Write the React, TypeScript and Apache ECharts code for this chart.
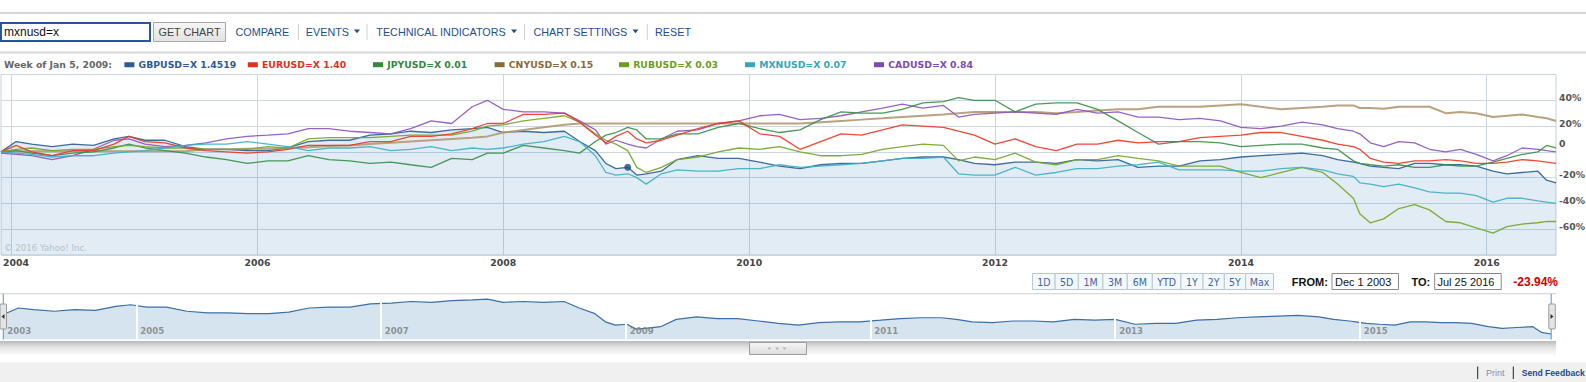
import React, { useEffect, useRef } from 'react';
import * as echarts from 'echarts';

// ---------- DATA ----------
const dates = [
  '2003-12-01', '2004-01-15', '2004-03-01', '2004-05-01', '2004-07-01', '2004-09-01', '2004-11-01', '2004-12-15',
  '2005-02-01', '2005-04-01', '2005-06-01', '2005-08-01', '2005-10-01', '2005-12-01', '2006-02-01', '2006-04-01',
  '2006-06-01', '2006-08-01', '2006-10-01', '2006-12-01', '2007-02-01', '2007-04-01', '2007-06-01', '2007-08-01',
  '2007-10-01', '2007-11-15', '2008-01-01', '2008-03-01', '2008-05-01', '2008-07-01', '2008-08-15', '2008-10-01',
  '2008-11-01', '2008-12-01', '2009-01-05', '2009-02-01', '2009-03-01', '2009-04-15', '2009-06-01', '2009-08-01',
  '2009-10-01', '2009-12-01', '2010-02-01', '2010-04-01', '2010-06-01', '2010-08-01', '2010-10-01', '2010-12-01',
  '2011-02-01', '2011-04-01', '2011-06-01', '2011-08-01', '2011-09-15', '2011-11-01', '2012-01-01', '2012-03-01',
  '2012-05-01', '2012-07-01', '2012-09-01', '2012-11-01', '2013-01-01', '2013-03-01', '2013-05-01', '2013-07-01',
  '2013-09-01', '2013-11-01', '2014-01-01', '2014-03-01', '2014-05-01', '2014-07-01', '2014-09-01', '2014-10-15',
  '2014-12-01', '2014-12-20', '2015-01-20', '2015-03-01', '2015-04-15', '2015-06-01', '2015-07-15', '2015-09-01',
  '2015-10-15', '2015-12-01', '2016-01-20', '2016-03-01', '2016-04-15', '2016-06-01', '2016-06-27', '2016-07-25',
];

const gbp = [
  0, 8, 6, 4, 6, 5, 10, 12, 9, 9, 4, 2, 2, 1, 1, 3, 8, 9, 9, 13, 14,
  16, 15, 17, 18, 19,
  15, 16, 15, 16, 8, 1, -9, -13, -12, -18, -17, -15, -6, -3, -5, -5, -8, -11, -13, -10, -9, -9, -7, -5, -4, -4, -6, -9, -10,
  -8, -8, -9, -6, -7, -6, -12, -11, -11, -7, -6, -4, -3, -2, -1,
  -3, -6, -8, -9, -11, -12, -13, -9, -9, -10, -10, -11, -15, -17, -16, -15, -22, -24,
];
const eur = [
  0, 5, 0, -3, 1, 1, 6, 12, 8, 7, 3, 1, 0, -1, 0, 2, 5, 5, 5, 8, 8,
  12, 12, 14, 18, 22,
  22, 29, 29, 30, 23, 13, 7, 12, 16, 10, 7, 9, 13, 18, 22, 24, 14, 12, 2, 8, 14, 13, 17, 21, 20, 19, 16, 13, 6,
  10, 4, 1, 6, 6, 9, 7, 8, 8, 11, 12, 13, 15, 15, 12,
  9, 6, 4, 2, -5, -8, -9, -7, -7, -6, -7, -9, -9, -8, -6, -7, -8, -9,
];
const jpy = [
  0, 1, -1, -3, -1, 0, 3, 6, 3, 1, -1, -4, -6, -9, -7, -7, -3, -6, -7, -9, -8,
  -10, -12, -5, -6, -1,
  -1, 5, 3, 1, -1, 8, 13, 15, 19, 17, 10, 10, 14, 14, 19, 22, 18, 15, 17, 25, 31, 30, 30, 33, 38, 39, 42, 40, 40,
  31, 37, 38, 38, 33, 24, 15, 6, 8, 8, 7, 4, 5, 6, 6,
  3, 2, -7, -9, -10, -11, -10, -12, -12, -10, -11, -11, -8, -5, -2, 0, 5, 3,
];
const cny = [
  0, 0.5, 0.5, 0.5, 0.5, 0.5, 0.5, 0.5, 0.5, 0.5, 0.5, 2, 2, 2.5, 2.5, 3, 3.5, 4.5, 5, 6, 7,
  8, 9, 10, 11, 12,
  15, 17, 19, 21, 22, 22, 22, 22, 22, 22, 22, 22, 22, 22, 22, 22, 22, 22, 22, 23, 24, 25, 26, 27, 28, 29, 30, 31, 31,
  31, 31, 30, 31, 32, 33, 33, 35, 35, 35, 36, 37, 35, 33, 34,
  35, 36, 36, 34, 34, 33.5, 35, 35, 35, 30, 31, 30, 27, 28, 29, 27, 26, 24,
];
const rub = [
  0, 2, 3, 1, 2, 2, 4, 5, 4, 3, 3, 2, 2, 2, 4, 3, 10, 11, 11, 11, 12,
  13, 13, 13, 16, 20,
  21, 24, 26, 28, 23, 14, 9, 6, 1, -12, -16, -12, -6, -4, 0, 3, 2, 4, 0, -3, -3, -2, 2, 4, 6, 5, -7, -4, -6,
  -1, -8, -10, -6, -6, -3, -5, -7, -11, -11, -11, -16, -20, -16, -12,
  -16, -25, -36, -48, -55, -52, -44, -41, -45, -54, -55, -59, -63, -58, -56, -55, -54, -54,
];
const mxn = [
  0, -1, -2, -4, -3, -3, -1, 0, 1, 3, 5, 6, 6, 8, 6, 4, 1, 3, 3, 4, 1,
  2, 4, 1, 3, 2,
  3, 6, 8, 12, 8, -3, -16, -18, -17, -20, -25, -17, -14, -15, -15, -13, -13, -10, -12, -11, -10, -9, -7, -5, -5, -4, -17, -18, -18,
  -12, -18, -16, -13, -13, -11, -10, -8, -14, -14, -14, -15, -15, -13, -12,
  -14, -17, -19, -24, -25, -27, -25, -28, -31, -32, -32, -34, -39, -36, -36, -38, -39, -40,
];
const cad = [
  -1, -2, -3, -6, -3, 2, 9, 10, 6, 4, 5, 7, 10, 12, 13, 14, 18, 18, 16, 15, 14,
  18, 24, 22, 35, 40,
  33, 31, 31, 30, 24, 17, 6, 9, 6, 4, 3, 10, 16, 17, 22, 24, 28, 29, 25, 26, 28, 31, 34, 37, 34, 36, 27, 29, 30,
  31, 30, 29, 33, 30, 31, 27, 27, 25, 26, 24, 19, 18, 20, 23,
  21, 18, 16, 14, 7, 4, 8, 7, 2, 0, 2, -2, -7, -3, 3, 2, 1, 0,
];

const symbols = ['GBPUSD=X', 'EURUSD=X', 'JPYUSD=X', 'CNYUSD=X', 'RUBUSD=X', 'MXNUSD=X', 'CADUSD=X'];
const hoverValues = ['1.4519', '1.40', '0.01', '0.15', '0.03', '0.07', '0.84'];
const seriesValues = [gbp, eur, jpy, cny, rub, mxn, cad];
const hoverDate = '2009-01-05';
const hoverTitle = 'Week of Jan 5, 2009:';
const startDate = '2003-12-01';
const endDate = '2016-07-25';
const yearLabels = [2004, 2006, 2008, 2010, 2012, 2014, 2016];
const navYears = [2003, 2005, 2007, 2009, 2011, 2013, 2015];
const rangeButtons = ['1D', '5D', '1M', '3M', '6M', 'YTD', '1Y', '2Y', '5Y', 'Max'];
const fromText = 'Dec 1 2003';
const toText = 'Jul 25 2016';
const changeText = '-23.94%';
const searchText = 'mxnusd=x';
const navItems = ['COMPARE', 'EVENTS', 'TECHNICAL INDICATORS', 'CHART SETTINGS', 'RESET'];
const navHasMenu = [false, true, true, true, false];

// ---------- STYLE / LAYOUT ----------
const lineColors = ['#2c5f97', '#ee3a24', '#3a904a', '#b39a74', '#74a62a', '#3fb0c4', '#8e55c0'];
const legendColors = ['#2a5b92', '#e3301e', '#2f8a3a', '#8a6a35', '#6b9e1f', '#37a6bd', '#7e4bb0'];
const legendX = [124.4, 247.8, 373, 494.6, 619, 745, 874];
const navX = [235.5, 305.8, 376.3, 533.5, 655];
const navSepX = [298.4, 367, 524.6, 647.3];
const navFontSize = 10.8;
const buttonEdges = [1032, 1054.6, 1077.8, 1102.4, 1126.8, 1151.8, 1180.4, 1202.5, 1223.8, 1245.2, 1273];
const gridColor = '#c9d7e3';
const bold = 'DejaVu Sans';
const sans = 'Liberation Sans, Arial, sans-serif';

function measure(t: string, font: string): number {
  try {
    const c = document.createElement('canvas').getContext('2d');
    if (!c) return t.length * 6.5;
    c.font = font;
    return c.measureText(t).width;
  } catch (e) {
    return t.length * 6.5;
  }
}

export default function App() {
  const ref = useRef<HTMLDivElement>(null);

  useEffect(() => {
    if (!ref.current) return;
    const chart = echarts.init(ref.current, null, { renderer: 'svg' });

    const pairs = (vals: number[]) => dates.map((d, i) => [d, vals[i]]);
    const hoverIdx = dates.indexOf(hoverDate);

    const drawOrder = [0, 3, 6, 2, 4, 1, 5];
    const mainSeries: any[] = drawOrder.map((i) => ({
      type: 'line',
      name: symbols[i],
      xAxisIndex: 0,
      yAxisIndex: 0,
      data: pairs(seriesValues[i]),
      symbol: 'none',
      silent: true,
      z: 3,
      lineStyle: { color: lineColors[i], width: i === 3 ? 2 : 1.3, opacity: 0.92 },
      areaStyle: i === 0 ? { color: 'rgba(50,120,175,0.2)', origin: 'start' } : undefined,
      markLine:
        i === 0
          ? {
              silent: true,
              z: 1,
              symbol: ['none', 'none'],
              lineStyle: { color: gridColor, width: 1, type: 'solid' },
              label: {
                show: true,
                position: 'start',
                distance: 3,
                formatter: '{b}',
                color: '#454545',
                fontFamily: bold,
                fontWeight: 'bold',
                fontSize: 9.3,
              },
              emphasis: { disabled: true },
              data: yearLabels.map((y, k) => ({
                name: String(y),
                xAxis: `${y}-01-01`,
                label: k === 0 ? { offset: [4.5, 0] } : undefined,
              })),
            }
          : undefined,
    }));

    const option: any = {
      animation: false,
      backgroundColor: '#ffffff',
      grid: [
        {
          left: 1, top: 74.5, width: 1555, height: 180.5,
          show: true, borderColor: '#c3d2de', borderWidth: 1, backgroundColor: '#fff',
          containLabel: false, outerBoundsMode: 'none',
        },
        {
          left: 3.3, top: 294, width: 1547.7, height: 45.3,
          show: false, containLabel: false, outerBoundsMode: 'none',
        },
      ],
      xAxis: [
        {
          type: 'time', gridIndex: 0, min: startDate, max: endDate,
          axisLine: { show: false }, axisTick: { show: false }, axisLabel: { show: false }, splitLine: { show: false },
        },
        {
          type: 'time', gridIndex: 1, min: startDate, max: endDate,
          axisLine: { show: false }, axisTick: { show: false }, axisLabel: { show: false }, splitLine: { show: false },
        },
      ],
      yAxis: [
        {
          type: 'value', gridIndex: 0, position: 'right', min: -80, max: 60, interval: 20,
          axisLine: { show: false }, axisTick: { show: false },
          splitLine: { show: true, lineStyle: { color: gridColor, width: 1 } },
          axisLabel: {
            margin: 3,
            align: 'left',
            formatter: (v: number) => (v === 60 || v === -80 ? '' : v === 0 ? '{z|0}' : `{n|${v}%}`),
            rich: {
              n: { fontFamily: bold, fontWeight: 'bold', fontSize: 9.3, color: '#555', padding: [0, 0, 6, 0] },
              z: { fontFamily: bold, fontWeight: 'bold', fontSize: 9.3, color: '#555', padding: [0, 0, 17, 0] },
            },
          },
        },
        {
          type: 'value', gridIndex: 1, min: -30.5, max: 25.2, show: false,
          splitLine: { show: false },
        },
      ],
      series: [
        ...mainSeries,
        {
          type: 'scatter',
          xAxisIndex: 0,
          yAxisIndex: 0,
          silent: true,
          z: 10,
          symbolSize: 7,
          itemStyle: { color: '#1d4b80' },
          data: [[hoverDate, gbp[hoverIdx]]],
        },
        {
          type: 'line',
          xAxisIndex: 1,
          yAxisIndex: 1,
          data: pairs(gbp),
          symbol: 'none',
          silent: true,
          z: 3,
          lineStyle: { color: '#3b6fa6', width: 1.2 },
          areaStyle: { color: '#d6e4ef', origin: 'start', opacity: 1 },
          markLine: {
            silent: true,
            symbol: ['none', 'none'],
            lineStyle: { color: '#ffffff', width: 2, type: 'solid' },
            label: { show: false },
            emphasis: { disabled: true },
            data: navYears.filter((y) => `${y}-01-01` > startDate).map((y) => ({ xAxis: `${y}-01-01` })),
          },
        },
        {
          type: 'scatter',
          xAxisIndex: 1,
          yAxisIndex: 1,
          silent: true,
          z: 8,
          symbolSize: 0,
          data: navYears.map((y) => ({
            value: [`${y}-01-01` > startDate ? `${y}-01-01` : startDate, -20.3],
            name: String(y),
          })),
          label: {
            show: true,
            position: 'right',
            distance: 4,
            formatter: '{b}',
            color: '#7b7b7b',
            fontFamily: bold,
            fontWeight: 'bold',
            fontSize: 8.6,
          },
        },
      ],
      graphic: buildGraphics(),
    };

    chart.setOption(option);
    return () => chart.dispose();
  }, []);

  return (
    <div
      ref={ref}
      style={{ position: 'fixed', left: 0, top: 0, width: 1586, height: 382, background: '#fff' }}
    />
  );
}

function buildGraphics(): any[] {
  const g: any[] = [];
  const rect = (x: number, y: number, w: number, h: number, style: any, extra: any = {}) =>
    g.push({ type: 'rect', shape: { x, y, width: w, height: h, ...(extra.r ? { r: extra.r } : {}) }, style, silent: true, z: extra.z ?? 20 });
  const text = (t: string, x: number, y: number, font: any, extra: any = {}) =>
    g.push({
      type: 'text', silent: true, z: extra.z ?? 21,
      style: { text: t, x, y, align: extra.align ?? 'left', verticalAlign: 'middle', ...font },
    });
  const line = (x1: number, y1: number, x2: number, y2: number, stroke: string, w = 1) =>
    g.push({ type: 'line', shape: { x1, y1, x2, y2 }, style: { stroke, lineWidth: w }, silent: true, z: 20 });

  // top rules
  rect(0, 12, 1586, 2, { fill: '#d6d6d6' });
  rect(0, 51.5, 1586, 2, { fill: '#d6d6d6' });

  // search box
  rect(1, 23, 149, 18, { fill: '#fff', stroke: '#2b54a0', lineWidth: 2 });
  text(searchText, 4, 32, { fontFamily: sans, fontSize: 12, fill: '#111' });
  rect(153.5, 22.5, 72, 19, {
    fill: new echarts.graphic.LinearGradient(0, 0, 0, 1, [
      { offset: 0, color: '#f7f7f7' }, { offset: 1, color: '#e2e2e2' },
    ]),
    stroke: '#a8a8a8', lineWidth: 1,
  });
  text('GET CHART', 189.5, 32, { fontFamily: sans, fontSize: 10.8, fill: '#444' }, { align: 'center' });

  navItems.forEach((n, i) => {
    text(n, navX[i], 31.5, { fontFamily: sans, fontSize: navFontSize, fill: '#1e4f8c' });
    if (navHasMenu[i]) {
      const w = measure(n, `${navFontSize}px "Liberation Sans", Arial, sans-serif`);
      const ax = navX[i] + w + 5;
      g.push({
        type: 'polygon', silent: true, z: 21,
        shape: { points: [[ax, 29.6], [ax + 6, 29.6], [ax + 3, 33.2]] },
        style: { fill: '#1e4f8c' },
      });
    }
  });
  navSepX.forEach((x) => line(x, 24, x, 40, '#cfcfcf', 1));

  // legend row
  text(hoverTitle, 4, 64.7, { fontFamily: bold, fontWeight: 'bold', fontSize: 9.3, fill: '#666' });
  symbols.forEach((s, i) => {
    rect(legendX[i], 62.2, 10, 5, { fill: legendColors[i] });
    text(`${s} ${hoverValues[i]}`, legendX[i] + 14.2, 64.7, {
      fontFamily: bold, fontWeight: 'bold', fontSize: 9.3, fill: legendColors[i],
    });
  });

  // watermark
  text('\u00a9 2016 Yahoo! Inc.', 4, 247.5, { fontFamily: bold, fontSize: 8.6, fill: '#b3c1cc' });

  // range buttons
  rangeButtons.forEach((b, i) => {
    const x0 = buttonEdges[i];
    const x1 = buttonEdges[i + 1];
    rect(x0 + 0.5, 273.5, x1 - x0, 16, { fill: '#f5f8fb', stroke: '#b7c7d6', lineWidth: 1 });
    text(b, (x0 + x1) / 2 + 0.5, 281.8, {
      fontFamily: 'Liberation Sans Narrow, DejaVu Sans Condensed, sans-serif', fontSize: 10.5, fill: '#3a67a0',
    }, { align: 'center' });
  });

  text('FROM:', 1291.8, 281.5, { fontFamily: sans, fontWeight: 'bold', fontSize: 11, fill: '#111' });
  rect(1332, 273.5, 66.5, 16, { fill: '#fff', stroke: '#8a8a8a', lineWidth: 1 });
  text(fromText, 1335, 281.8, { fontFamily: sans, fontSize: 11, fill: '#111' });
  text('TO:', 1411.5, 281.5, { fontFamily: sans, fontWeight: 'bold', fontSize: 11, fill: '#111' });
  rect(1434.7, 273.5, 66.5, 16, { fill: '#fff', stroke: '#8a8a8a', lineWidth: 1 });
  text(toText, 1437.5, 281.8, { fontFamily: sans, fontSize: 11, fill: '#111' });
  text(changeText, 1513.3, 281.5, { fontFamily: sans, fontWeight: 'bold', fontSize: 12, fill: '#d40000' });

  // navigator frame
  rect(0, 293.3, 1556, 1, { fill: '#cdcdcd' });
  line(3.3, 294, 3.3, 339.5, '#3d9be9', 1);
  line(1551.2, 294, 1551.2, 339.5, '#3d9be9', 1);
  rect(0, 304, 6.5, 25, { fill: '#e4e4e4', stroke: '#9a9a9a', lineWidth: 1 }, { r: 1, z: 22 });
  g.push({ type: 'polygon', silent: true, z: 23, shape: { points: [[1.5, 316.5], [4.5, 314], [4.5, 319]] }, style: { fill: '#333' } });
  rect(1548.8, 304, 6.5, 25, { fill: '#e4e4e4', stroke: '#9a9a9a', lineWidth: 1 }, { r: 1, z: 22 });
  g.push({ type: 'polygon', silent: true, z: 23, shape: { points: [[1553.5, 316.5], [1550.5, 314], [1550.5, 319]] }, style: { fill: '#333' } });

  // scrollbar
  rect(0, 341, 1556, 14, {
    fill: new echarts.graphic.LinearGradient(0, 0, 0, 1, [
      { offset: 0, color: '#b9b9b9' }, { offset: 0.45, color: '#e4e4e4' }, { offset: 1, color: '#fbfbfb' },
    ]),
  });
  rect(749.5, 342.5, 57, 12, {
    fill: new echarts.graphic.LinearGradient(0, 0, 0, 1, [
      { offset: 0, color: '#f6f6f6' }, { offset: 1, color: '#dcdcdc' },
    ]),
    stroke: '#9c9c9c', lineWidth: 1,
  }, { z: 22 });
  [769.5, 777, 784.5].forEach((x) => {
    g.push({ type: 'polygon', silent: true, z: 23, shape: { points: [[x - 2, 347.5], [x + 2, 347.5], [x, 350]] }, style: { fill: '#b5b5b5' } });
  });

  // footer
  rect(0, 362.5, 1586, 20, { fill: '#f0f0f0' });
  line(1477.7, 366.5, 1477.7, 379, '#222', 1);
  text('Print', 1486, 373, { fontFamily: sans, fontSize: 9, fill: '#7c8fb5' });
  line(1513.3, 366.5, 1513.3, 379, '#222', 1);
  text('Send Feedback', 1521.7, 373, { fontFamily: sans, fontWeight: 'bold', fontSize: 8.6, fill: '#1d4a8c' });

  return g;
}
